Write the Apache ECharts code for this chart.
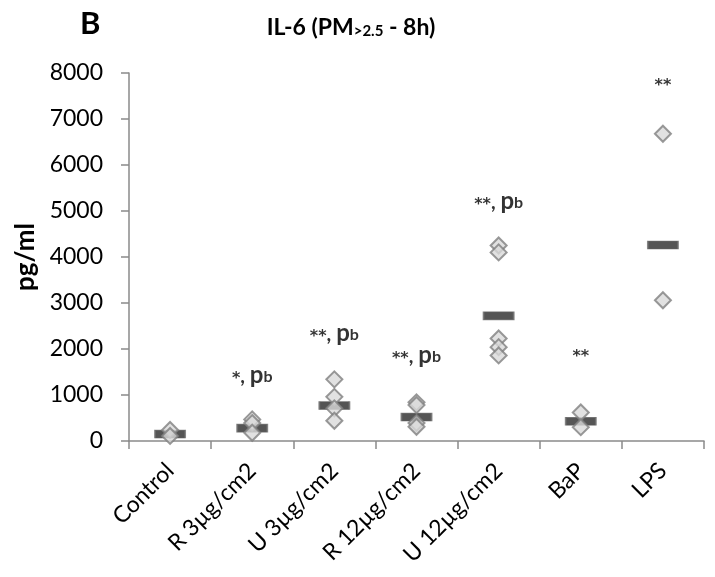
<!DOCTYPE html>
<html>
<head>
<meta charset="utf-8">
<script src="https://cdn.jsdelivr.net/npm/echarts@6/dist/echarts.min.js"></script>
<style>html,body{margin:0;padding:0;background:#fff;}#c{width:715px;height:577px;}</style>
</head>
<body>
<div id="c"></div>
<script>
// ---- data ----
var categories = ['Control', 'R 3µg/cm2', 'U 3µg/cm2', 'R 12µg/cm2', 'U 12µg/cm2', 'BaP', 'LPS'];
var controlVals = [240, 110];
var r3Vals = [470, 390, 180];
var u3Vals = [1340, 960, 710, 440];
var r12Vals = [840, 780, 390, 310];
var u12Vals = [4250, 4100, 2230, 2040, 1860];
var bapVals = [620, 300];
var lpsVals = [6680, 3060];
var centralVals = [150, 280, 770, 520, 2720, 430, 4260];
var annotationText = ['', '*, pb', '**, pb', '**, pb', '**, pb', '**', '**'];
var annotationY = [null, 1435, 2348, 1870, 5217, 1837, 7717];
var yTicks = [0, 1000, 2000, 3000, 4000, 5000, 6000, 7000, 8000];

// ---- build ----
var groups = [controlVals, r3Vals, u3Vals, r12Vals, u12Vals, bapVals, lpsVals];
var diamondData = [];
groups.forEach(function (g, i) { g.forEach(function (v) { diamondData.push([categories[i], v]); }); });
var centralData = centralVals.map(function (v, i) { return [categories[i], v]; });
var annData = [];
annotationText.forEach(function (t, i) { if (t) annData.push({ value: [categories[i], annotationY[i]], txt: t }); });

function fmtAnn(p) {
  var t = p.data.txt;
  var m = t.match(/^(\*+)(, )?(pb)?$/);
  var s = '{a|' + m[1] + '}';
  if (m[2]) s += '{c|, }';
  if (m[3]) s += '{p|p}{b|b}';
  return s;
}

var FONT = 'Lato';
var axisColor = '#8a8a8a';
var chart = echarts.init(document.getElementById('c'), null, { renderer: 'canvas' });
chart.setOption({
  animation: false,
  backgroundColor: '#ffffff',
  textStyle: { fontFamily: FONT },
  graphic: [
    { type: 'text', left: 80, top: 8, style: { text: 'B', font: 'bold 31px Lato', fill: '#000' } },
    { type: 'text', x: 351, y: 28, style: {
        text: '{m|IL-6 (PM}{s|>2.5}{m| - 8h)}', align: 'center', verticalAlign: 'middle',
        rich: {
          m: { fontFamily: FONT, fontSize: 23, fontWeight: 'bold', fill: '#000', verticalAlign: 'bottom' },
          s: { fontFamily: FONT, fontSize: 15, fontWeight: 'bold', fill: '#000', verticalAlign: 'bottom', padding: [0, 0, 1, 0] }
        } } }
  ],
  grid: { left: 129, right: 11, top: 73, bottom: 136, containLabel: false },
  xAxis: {
    type: 'category', data: categories, boundaryGap: true,
    axisLine: { show: true, lineStyle: { color: axisColor, width: 1.5 } },
    axisTick: { show: true, length: 8, lineStyle: { color: axisColor, width: 1.5 } },
    axisLabel: { interval: 0, rotate: 45, margin: 26, fontFamily: FONT, fontSize: 23, color: '#000' },
    splitLine: { show: false }
  },
  yAxis: {
    type: 'value', min: 0, max: 8000, interval: 1000,
    name: 'pg/ml', nameLocation: 'middle', nameGap: 89, nameRotate: 90,
    nameTextStyle: { fontFamily: FONT, fontSize: 26, fontWeight: 'bold', color: '#000' },
    axisLine: { show: true, lineStyle: { color: axisColor, width: 1.5 } },
    axisTick: { show: true, length: 8, lineStyle: { color: axisColor, width: 1.5 } },
    axisLabel: { margin: 26, fontFamily: FONT, fontSize: 23, color: '#000',
      formatter: function (v) { return yTicks.indexOf(v) >= 0 ? String(v) : ''; } },
    splitLine: { show: false }
  },
  series: [
    { type: 'scatter', data: centralData, symbol: 'rect', symbolSize: [30, 8], z: 2,
      itemStyle: { color: '#2b2b2b', borderColor: '#6a6a6a', borderWidth: 1 } },
    { type: 'scatter', data: diamondData, symbol: 'diamond', symbolSize: 16, z: 3,
      itemStyle: { color: '#d9d9d9', borderColor: '#7f7f7f', borderWidth: 2 } },
    { type: 'scatter', data: annData, symbolSize: 0, z: 4, silent: true,
      label: { show: true, position: 'inside', formatter: fmtAnn,
        rich: {
          a: { fontFamily: 'DejaVu Sans', fontSize: 16, fontWeight: 'bold', color: '#000', verticalAlign: 'bottom' },
          c: { fontFamily: FONT, fontSize: 20, fontWeight: 'bold', color: '#000', verticalAlign: 'bottom' },
          p: { fontFamily: FONT, fontSize: 24, fontWeight: 'bold', color: '#000', verticalAlign: 'bottom' },
          b: { fontFamily: FONT, fontSize: 16, fontWeight: 'bold', color: '#000', verticalAlign: 'bottom', padding: [0, 0, 2, 0] }
        } } }
  ]
});
</script>
</body>
</html>
